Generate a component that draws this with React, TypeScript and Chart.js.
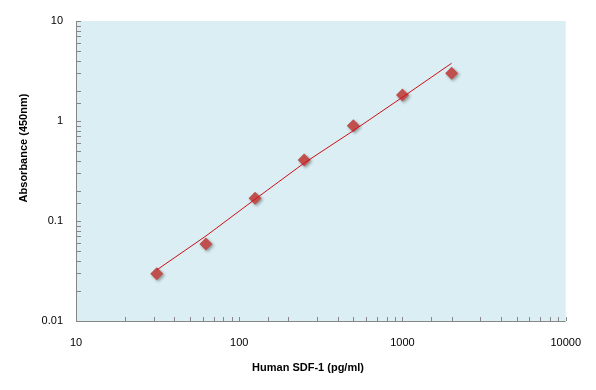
import React, { useEffect, useRef } from "react";
import { Chart, registerables } from "chart.js";

Chart.register(...registerables);

const concentrations = [31.25, 62.5, 125, 250, 500, 1000, 2000];
const absorbance = [0.0297, 0.0589, 0.1687, 0.407, 0.897, 1.82, 3.0];
const trendValues = [0.0324, 0.0708, 0.165, 0.38, 0.8, 1.73, 3.78];
const xTitle = "Human SDF-1 (pg/ml)";
const yTitle = "Absorbance (450nm)";

const FONT = "'Liberation Sans', Arial, sans-serif";

const isDecade = (v: number) => {
  const l = Math.log10(v);
  return Math.abs(l - Math.round(l)) < 1e-9;
};
const fmt = (v: number) => {
  const e = Math.round(Math.log10(v));
  return e >= 0 ? String(Math.round(Math.pow(10, e))) : Math.pow(10, e).toFixed(-e);
};

const decorPlugin = {
  id: "decor",
  beforeDraw(chart: any) {
    const { ctx, chartArea } = chart;
    ctx.save();
    ctx.fillStyle = "#DAEEF3";
    ctx.fillRect(chartArea.left, chartArea.top, chartArea.right - chartArea.left, chartArea.bottom - chartArea.top);
    ctx.restore();
  },
  beforeDatasetDraw(chart: any, args: any) {
    const ctx = chart.ctx;
    ctx.save();
    if (args.index === 1) {
      ctx.shadowColor = "rgba(0,0,0,0.35)";
      ctx.shadowBlur = 3;
      ctx.shadowOffsetX = 1.5;
      ctx.shadowOffsetY = 1.5;
    }
  },
  afterDatasetDraw(chart: any) {
    chart.ctx.restore();
  },
  afterDraw(chart: any) {
    const { ctx, chartArea, scales } = chart;
    const { left, right, top, bottom } = chartArea;
    ctx.save();
    ctx.strokeStyle = "#868686";
    ctx.lineWidth = 1;
    ctx.beginPath();
    ctx.moveTo(left + 0.5, top);
    ctx.lineTo(left + 0.5, bottom + 0.5);
    ctx.lineTo(right, bottom + 0.5);
    // y ticks (inside)
    scales.y.ticks.forEach((t: any) => {
      const y = Math.round(scales.y.getPixelForValue(t.value)) + 0.5;
      ctx.moveTo(left, y);
      ctx.lineTo(left + 5, y);
    });
    // x ticks (inside)
    scales.x.ticks.forEach((t: any) => {
      const x = Math.round(scales.x.getPixelForValue(t.value)) + 0.5;
      ctx.moveTo(x, bottom);
      ctx.lineTo(x, bottom - 4);
    });
    ctx.stroke();

    ctx.fillStyle = "#000";
    ctx.font = `bold 11px ${FONT}`;
    ctx.textAlign = "center";
    ctx.textBaseline = "middle";
    ctx.fillText(xTitle, 308, 368);
    ctx.translate(24, 148);
    ctx.rotate(-Math.PI / 2);
    ctx.fillText(yTitle, 0, 0);
    ctx.restore();
  },
};

export default function App() {
  const ref = useRef<HTMLCanvasElement | null>(null);
  useEffect(() => {
    if (!ref.current) return;
    const chart = new Chart(ref.current, {
      type: "scatter",
      data: {
        datasets: [
          {
            type: "line",
            label: "Trend",
            data: concentrations.map((x, i) => ({ x, y: trendValues[i] })),
            borderColor: "#D01018",
            borderWidth: 1,
            pointRadius: 0,
            fill: false,
            tension: 0,
          },
          {
            type: "scatter",
            label: "Standard",
            data: concentrations.map((x, i) => ({ x, y: absorbance[i] })),
            backgroundColor: "#C0504D",
            borderColor: "#C0504D",
            borderWidth: 0,
            pointStyle: "rectRot",
            pointRadius: 6.5,
          },
        ],
      },
      options: {
        responsive: false,
        animation: false,
        layout: { padding: { top: 21, right: 28, left: 0, bottom: 0 } },
        plugins: { legend: { display: false }, tooltip: { enabled: false } },
        scales: {
          x: {
            type: "logarithmic",
            min: 10,
            max: 10000,
            grid: { display: false, drawTicks: false },
            border: { display: false },
            ticks: {
              autoSkip: false,
              maxRotation: 0,
              padding: 15,
              color: "#000",
              font: { family: FONT, size: 11 },
              callback: (v: any) => (isDecade(Number(v)) ? fmt(Number(v)) : ""),
            },
            afterFit: (s: any) => {
              s.height = 69;
            },
          },
          y: {
            type: "logarithmic",
            min: 0.01,
            max: 10,
            grid: { display: false, drawTicks: false },
            border: { display: false },
            ticks: {
              autoSkip: false,
              padding: 13,
              color: "#000",
              font: { family: FONT, size: 11 },
              callback: (v: any) => (isDecade(Number(v)) ? fmt(Number(v)) : ""),
            },
            afterFit: (s: any) => {
              s.width = 76;
            },
          },
        },
      },
      plugins: [decorPlugin],
    });
    return () => chart.destroy();
  }, []);
  return (
    <div style={{ position: "absolute", left: 0, top: 0, width: 596, height: 390, background: "#fff" }}>
      <canvas ref={ref} width={596} height={390} />
    </div>
  );
}
